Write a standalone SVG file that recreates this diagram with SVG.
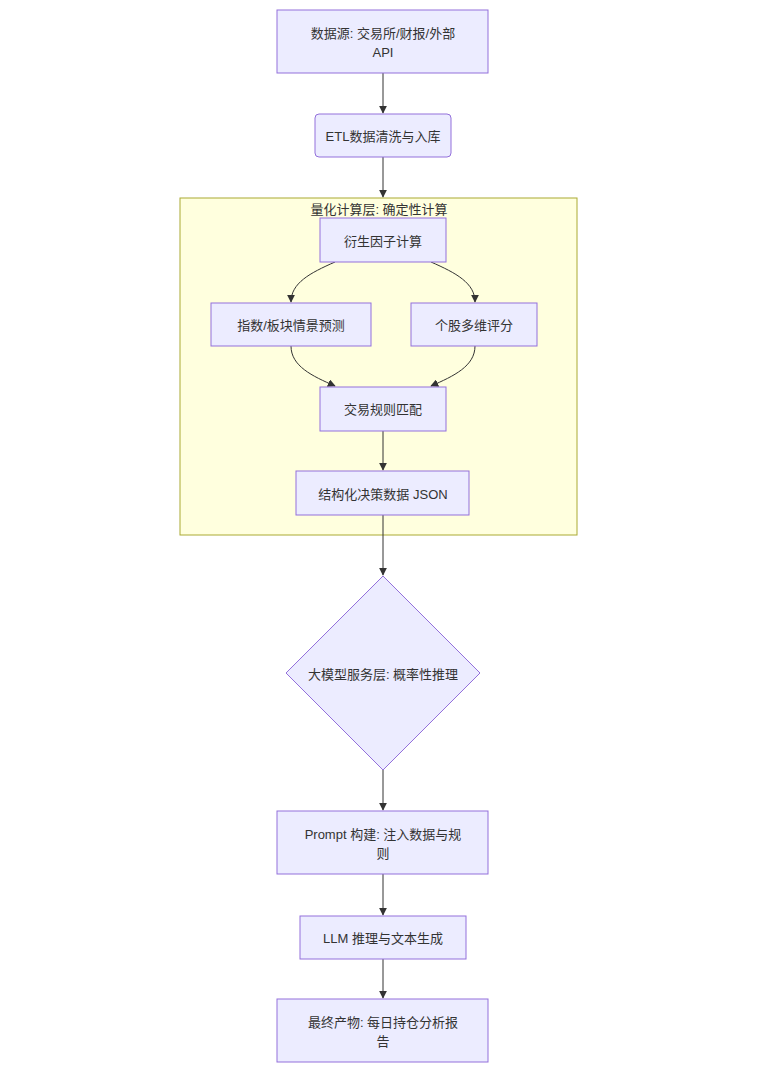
<svg xmlns="http://www.w3.org/2000/svg" width="760" height="1073" viewBox="0 0 760 1073">
<style>
.n{fill:#ececff;stroke:#9370db;stroke-width:1}
.t{font-family:"Liberation Sans","Noto Sans CJK SC",sans-serif;font-size:13px;fill:#333;text-anchor:middle;dominant-baseline:central}
.e{fill:none;stroke:#333;stroke-width:1}
</style>
<defs><marker id="a" viewBox="0 0 10 10" refX="9" refY="5" markerWidth="8" markerHeight="8" orient="auto"><path d="M0,0L10,5L0,10z" fill="#333"/></marker></defs>
<rect width="760" height="1073" fill="#fff"/>
<g id="cluster"><rect x="180" y="198" width="397" height="337" fill="#ffffde" stroke="#aaaa33"/><text class="t" x="379" y="209">量化计算层: 确定性计算</text></g>
<g id="edges">
<path class="e" d="M383,73V113" marker-end="url(#a)"/>
<path class="e" d="M383,157V197" marker-end="url(#a)"/>
<path class="e" d="M335,262C310,273 291,283 291,302" marker-end="url(#a)"/>
<path class="e" d="M431,262C456,273 475,283 475,302" marker-end="url(#a)"/>
<path class="e" d="M291,346C291,366 312,376 335,386" marker-end="url(#a)"/>
<path class="e" d="M475,346C475,366 454,376 431,386" marker-end="url(#a)"/>
<path class="e" d="M383,431V470" marker-end="url(#a)"/>
<path class="e" d="M383,515V575" marker-end="url(#a)"/>
<path class="e" d="M383,770V810" marker-end="url(#a)"/>
<path class="e" d="M383,874V915" marker-end="url(#a)"/>
<path class="e" d="M383,959V998" marker-end="url(#a)"/>
</g>
<g id="n1"><rect class="n" x="277" y="10" width="211" height="63"/><text class="t" x="383" y="33">数据源: 交易所/财报/外部</text><text class="t" x="383" y="52">API</text></g>
<g id="n2"><rect class="n" x="315" y="114" width="136" height="43" rx="4" stroke-width="2"/><text class="t" x="383" y="136">ETL数据清洗与入库</text></g>
<g id="n3"><rect class="n" x="320" y="218" width="126" height="44"/><text class="t" x="383" y="241">衍生因子计算</text></g>
<g id="n4"><rect class="n" x="211" y="303" width="160" height="43"/><text class="t" x="291" y="325">指数/板块情景预测</text></g>
<g id="n5"><rect class="n" x="411" y="303" width="126" height="43"/><text class="t" x="474" y="325">个股多维评分</text></g>
<g id="n6"><rect class="n" x="320" y="387" width="126" height="44"/><text class="t" x="383" y="409">交易规则匹配</text></g>
<g id="n7"><rect class="n" x="296" y="471" width="173" height="44"/><text class="t" x="383" y="494">结构化决策数据 JSON</text></g>
<g id="n8"><path class="n" d="M383,576L480,673L383,770L286,673z"/><text class="t" x="383" y="674">大模型服务层: 概率性推理</text></g>
<g id="n9"><rect class="n" x="277" y="811" width="211" height="63"/><text class="t" x="383" y="834">Prompt 构建: 注入数据与规</text><text class="t" x="383" y="853">则</text></g>
<g id="n10"><rect class="n" x="300" y="916" width="166" height="43"/><text class="t" x="383" y="938">LLM 推理与文本生成</text></g>
<g id="n11"><rect class="n" x="277" y="999" width="211" height="63"/><text class="t" x="383" y="1022">最终产物: 每日持仓分析报</text><text class="t" x="383" y="1041">告</text></g>
</svg>
